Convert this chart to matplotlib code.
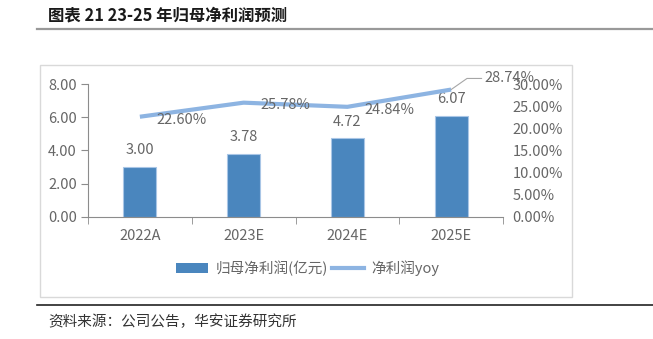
import matplotlib
matplotlib.use("Agg")
import matplotlib.pyplot as plt
from matplotlib.patches import Rectangle
from matplotlib.lines import Line2D
from matplotlib.patches import Patch
import numpy as np

plt.rcParams['font.family'] = ['Noto Sans CJK SC', 'DejaVu Sans']

categories = ["2022A", "2023E", "2024E", "2025E"]
profit = [3.00, 3.78, 4.72, 6.07]
yoy = [22.60, 25.78, 24.84, 28.74]
left_ticks = [0, 2, 4, 6, 8]
right_ticks = [0, 5, 10, 15, 20, 25, 30]

W, H = 653, 339
fig = plt.figure(figsize=(W / 100, H / 100), dpi=100)

def fx(px):
    return px / W

def fy(py):
    return 1 - py / H

gray_text = "#666666"
bar_color = "#4A86BE"
line_color = "#8DB4E2"
spine_color = "#8C8C8C"

# Title
fig.text(fx(48), fy(15), "图表 21 23-25 年归母净利润预测", fontsize=11.8, fontweight='bold',
         color="#1a1a1a", ha='left', va='center')
fig.add_artist(Line2D([fx(37), fx(653)], [fy(28.5), fy(28.5)], color="#999999", lw=1.6))

# Chart box
fig.add_artist(Rectangle((fx(40), fy(297)), fx(572) - fx(40), fy(65) - fy(297),
                         fill=False, edgecolor="#D9D9D9", lw=1))

# Bottom source line and text
fig.add_artist(Line2D([fx(37), fx(653)], [fy(305), fy(305)], color="#222222", lw=1.2))
fig.text(fx(48), fy(322), "资料来源：公司公告，华安证券研究所", fontsize=10.5, color="#333333",
         ha='left', va='center')

ax = fig.add_axes([fx(88), fy(216.7), fx(503) - fx(88), fy(84) - fy(216.7)])
x = np.arange(len(categories))
bars = ax.bar(x, profit, width=0.32, color=bar_color, edgecolor="#A9C6E6", linewidth=0.8, zorder=2)
ax.set_xlim(-0.5, len(categories) - 0.5)
ax.set_ylim(0, 8)
ax.set_yticks(left_ticks)
ax.set_yticklabels([f"{v:.2f}" for v in left_ticks])
ax.set_xticks(x)
ax.set_xticklabels(categories)
ax.set_xticks(np.arange(-0.5, len(categories)), minor=True)
ax.tick_params(axis='x', which='major', length=0, pad=9, labelsize=10.5, labelcolor=gray_text)
ax.tick_params(axis='x', which='minor', length=5, color=spine_color, direction='out')
ax.tick_params(axis='y', length=5, color=spine_color, labelsize=10.5, labelcolor=gray_text, pad=3)
for s in ['top', 'right']:
    ax.spines[s].set_visible(False)
ax.spines['left'].set_color(spine_color)
ax.spines['bottom'].set_color(spine_color)

for xi, v in zip(x, profit):
    ax.text(xi, v + 0.58, f"{v:.2f}", ha='center', va='bottom', fontsize=10.5, color=gray_text)

ax2 = ax.twinx()
ax2.set_ylim(0, 30)
ax2.set_yticks(right_ticks)
ax2.set_yticklabels([f"{v:.2f}%" for v in right_ticks])
ax2.tick_params(axis='y', length=0, labelsize=10.5, labelcolor=gray_text, pad=7)
for s in ['top', 'right', 'left', 'bottom']:
    ax2.spines[s].set_visible(False)
ax2.plot(x, yoy, color=line_color, lw=3, solid_capstyle='butt', zorder=3)

for i, (xi, v) in enumerate(zip(x, yoy)):
    if i < len(x) - 1:
        ax2.annotate(f"{v:.2f}%", (xi, v), xytext=(12, -2), textcoords='offset points',
                     ha='left', va='center', fontsize=10.5, color=gray_text)
    else:
        ax2.annotate(f"{v:.2f}%", (xi, v), xytext=(24, 8), textcoords='offset points',
                     ha='left', va='center', fontsize=10.5, color=gray_text,
                     arrowprops=dict(arrowstyle='-', color="#A6A6A6", lw=0.8,
                                     connectionstyle="angle,angleA=0,angleB=35,rad=0",
                                     shrinkA=0, shrinkB=0))

handles = [Patch(facecolor=bar_color, edgecolor='none'),
           Line2D([0], [0], color=line_color, lw=3)]
fig.legend(handles, ["归母净利润(亿元)", "净利润yoy"], loc='center',
           bbox_to_anchor=(fx(308), fy(268)), ncol=2, frameon=False, fontsize=10.5,
           labelcolor=gray_text, handlelength=2.2, handletextpad=0.5, columnspacing=0.3,
           handleheight=0.7)

fig.savefig("out.png", dpi=100)
